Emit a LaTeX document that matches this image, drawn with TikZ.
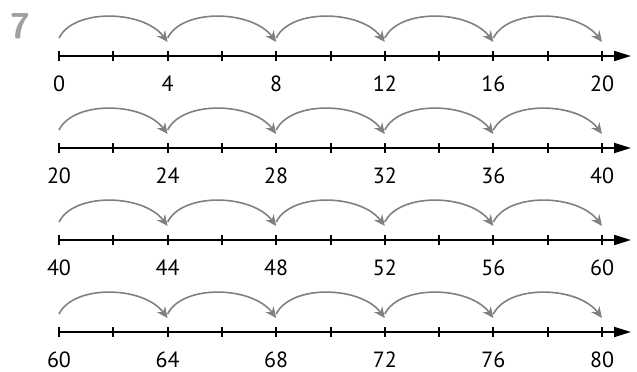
\documentclass[tikz,border=0pt]{standalone}
\usepackage{fontspec}
\setmainfont{PT Sans}
\usetikzlibrary{arrows.meta}
\definecolor{jumpgray}{RGB}{128,128,128}
\definecolor{numgray}{RGB}{160,160,160}
\tikzset{
  numline/.style={line width=1pt,-{Triangle[length=8.5pt,width=5pt]}},
  tickmark/.style={line width=1pt},
  jump/.style={jumpgray,line width=0.8pt,-{Stealth[length=5.5pt,width=5pt]}},
  numlabel/.style={font=\fontsize{11}{13}\selectfont,inner sep=0pt}
}
\begin{document}
\begin{tikzpicture}[x=0.5pt,y=0.5pt]
\useasboundingbox (0,0) rectangle (637,371);
\node[text=numgray,font=\fontsize{18}{20}\bfseries\sffamily] (num) at (20,345) {7};

\foreach \r/\ly/\base in {1/315/0, 2/223/20, 3/131/40, 4/39/60}{
  \coordinate (a\r) at (59,\ly);
  \coordinate (b\r) at (631,\ly);
  \draw[numline] (a\r) -- (b\r);
  \foreach \k in {0,...,10}{
    \coordinate (t\r-\k) at ({59+54.3*\k},\ly);
    \draw[tickmark] ([yshift=-2.5pt]t\r-\k) -- ([yshift=2.5pt]t\r-\k);
  }
  \foreach \k [evaluate=\k as \val using int(\base+2*\k)] in {0,2,...,10}{
    \node[numlabel] (l\r-\k) at ([yshift=-14pt]t\r-\k) {\val};
  }
  \foreach \k [evaluate=\k as \n using int(\k+2)] in {0,2,...,8}{
    \coordinate (s\r-\k) at ([yshift=9pt]t\r-\k);
    \coordinate (e\r-\k) at ([yshift=7pt]t\r-\n);
    \draw[jump] (s\r-\k) .. controls +(7.5pt,15pt) and +(-12pt,16pt) .. (e\r-\k);
  }
}
\end{tikzpicture}
\end{document}
